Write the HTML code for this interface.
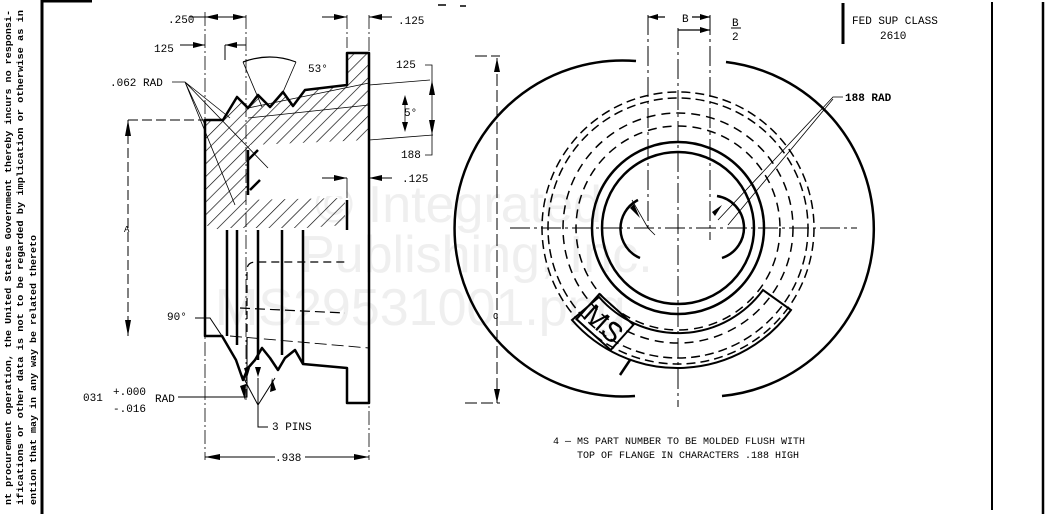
<!DOCTYPE html>
<html><head><meta charset="utf-8"><style>
html,body{margin:0;padding:0;background:#fff;}
svg{display:block;}
text{font-family:"Liberation Mono",monospace;fill:#000;}
</style></head><body>
<svg width="1049" height="514" viewBox="0 0 1049 514" xmlns="http://www.w3.org/2000/svg">
<defs>
<pattern id="h" width="9" height="9" patternUnits="userSpaceOnUse" patternTransform="rotate(45)">
<line x1="0" y1="0" x2="0" y2="9" stroke="#000" stroke-width="1.3"/>
</pattern>
</defs>
<rect width="1049" height="514" fill="#fff"/>
<!-- watermark -->
<g>
<text x="315" y="222" font-size="52" style="font-family:'Liberation Sans',sans-serif;fill:#efefef">© Integrated</text>
<text x="300" y="272" font-size="52" style="font-family:'Liberation Sans',sans-serif;fill:#efefef">Publishing, Inc.</text>
<text x="215" y="325" font-size="52" style="font-family:'Liberation Sans',sans-serif;fill:#efefef">MS29531001.png</text>
</g>
<!-- left margin text -->
<g font-size="9.5" font-weight="bold">
<text transform="translate(11,505) rotate(-90)" textLength="495" lengthAdjust="spacingAndGlyphs">nt procurement operation, the United States Government thereby incurs no responsi-</text>
<text transform="translate(23,505) rotate(-90)" textLength="495" lengthAdjust="spacingAndGlyphs">ifications or other data is not to be regarded by implication or otherwise as in</text>
<text transform="translate(36,505) rotate(-90)" textLength="270" lengthAdjust="spacingAndGlyphs">ention that may in any way be related thereto</text>
</g>
<line x1="42" y1="0" x2="42" y2="514" stroke="#000" stroke-width="3"/>
<line x1="42" y1="1" x2="92" y2="1" stroke="#000" stroke-width="3"/>
<line x1="438" y1="5" x2="446" y2="5" stroke="#000" stroke-width="1.5"/>
<line x1="460" y1="6" x2="466" y2="6" stroke="#000" stroke-width="1.5"/>

<!-- LEFT VIEW -->
<path d="M205,120 L223,120 L237,97 L248,108 L258,95 L270,107 L283,92 L293,106 L305,90 L347,85 L347,53 L369,53 L369,140 L250,145 L248,195 L240,200 L345,198 L345,225 L305,228 L228,228 L220,230 L205,225 Z" fill="url(#h)"/>
<rect x="250" y="146" width="96" height="50" fill="#fff"/>
<g fill="none" stroke="#000" stroke-width="2.5" stroke-linejoin="round">
<path d="M205,120 L223,120 L237,97 L248,108 L258,95 L270,107 L283,92 L293,106 L305,90 L347,85 L347,53 L369,53 L369,403 L347,403 L347,368 L303,364 L295,350 L285,358 L278,370 L270,358 L262,348 L255,360 L248,368 L243,380 L236,360 L222,336 L205,336 Z"/>
<path d="M248,150 L248,195"/>
<path d="M248,160 L258,150"/>
<path d="M250,190 L260,180"/>
<path d="M347,200 L347,230"/>
<path d="M227,230 L227,336 M237,230 L237,345 M258,230 L258,360 M282,230 L282,355 M303,230 L303,364"/>
</g>
<g fill="none" stroke="#000" stroke-width="1.2">
<path d="M247,345 L247,270 Q247,262 256,262 L345,262" stroke-dasharray="8,5"/>
<path d="M240,308 L345,313" stroke-dasharray="10,5"/>
<path d="M230,336 L369,348" stroke-dasharray="12,5" stroke-width="0.9"/>
<path d="M248,108 L369,83 M248,118 L369,105" stroke-width="0.8"/>
<path d="M369,140 L433,135" stroke-width="0.8"/>
<path d="M369,85 L430,80" stroke-width="0.8"/>
<path d="M205,12 L205,460 M246,15 L246,400 M347,15 L347,48 M369,15 L369,460" stroke-dasharray="14,3,2,3" stroke-width="0.8"/>
<path d="M347,178 L347,198" stroke-width="0.8"/>
<path d="M190,17 L205,17 M205,17 L246,17 M322,17 L347,17 M369,17 L392,17" stroke-width="1"/>
<path d="M180,45 L205,45 M225,45 L246,45 M225,45 L225,60" stroke-width="1"/>
<path d="M243,62 Q270,52 296,62" stroke-width="1.2"/>
<path d="M243,62 L262,107 M296,62 L283,92" stroke-width="0.8"/>
<path d="M172,82 L185,82 L205,125 M185,82 L230,118 M185,82 L268,168 M185,82 L235,205" stroke-width="0.8"/>
<path d="M128,120 L205,120 M128,120 L128,336" stroke-dasharray="10,4" stroke-width="1"/>
<path d="M425,65 L432,65 L432,155 L425,155 M405,98 L405,130" stroke-width="0.8"/>
<path d="M369,178 L392,178 M322,178 L347,178" stroke-width="1"/>
<path d="M195,318 L210,318 L222,336" stroke-width="1"/>
<path d="M178,397 L247,397 L247,340" stroke-width="1"/>
<path d="M242,375 L258,405 L275,378 M258,405 L258,427 L268,427 M258,405 L258,378" stroke-width="1"/>
<path d="M205,457 L275,457 M305,457 L369,457" stroke-width="1"/>
<path d="M475,56 L500,56 M497,58 L497,403 M465,403 L500,403" stroke-dasharray="12,4" stroke-width="1"/>
</g>
<g fill="#000">
<polygon points="205,17 218,14 218,20"/><polygon points="246,17 233,14 233,20"/>
<polygon points="347,17 334,14 334,20"/><polygon points="369,17 382,14 382,20"/>
<polygon points="205,45 193,42 193,48"/><polygon points="225,45 237,42 237,48"/>
<polygon points="128,120 125,136 131,136"/><polygon points="128,336 125,320 131,320"/>
<polygon points="497,58 494,72 500,72"/><polygon points="497,403 494,389 500,389"/>
<polygon points="347,178 334,175 334,181"/><polygon points="369,178 382,175 382,181"/>
<polygon points="205,457 220,454 220,460"/><polygon points="369,457 354,454 354,460"/>
<polygon points="432,80 429,95 435,95"/><polygon points="432,135 429,120 435,120"/>
<polygon points="405,95 402,105 408,105"/><polygon points="405,132 402,122 408,122"/>
<polygon points="247,378 244,368 250,368"/><polygon points="258,377 255,367 261,367"/>
<polygon points="245,400 240,386 246,384"/><polygon points="272,378 270,392 276,390"/>
</g>
<g font-size="11">
<text x="168" y="23">.250</text>
<text x="154" y="52">125</text>
<text x="308" y="72">53°</text>
<text x="110" y="86">.062 RAD</text>
<text x="398" y="24">.125</text>
<text x="396" y="68">125</text>
<text x="404" y="116">5°</text>
<text x="401" y="158">188</text>
<text x="402" y="182">.125</text>
<text x="124" y="232" font-size="9">A</text>
<text x="167" y="320">90°</text>
<text x="83" y="401">031</text>
<text x="113" y="395">+.000</text>
<text x="113" y="412">-.016</text>
<text x="155" y="402">RAD</text>
<text x="272" y="430">3 PINS</text>
<text x="275" y="461">.938</text>
<text x="493" y="319" font-size="9">C</text>
</g>

<!-- RIGHT VIEW -->
<g fill="none" stroke="#000">
<path d="M636,61 A168,168 0 1,0 635,396" stroke-width="2.5"/>
<path d="M726,62 A168,168 0 0,1 722,396" stroke-width="2.5"/>
<circle cx="678" cy="228" r="136" stroke-width="1.5" stroke-dasharray="9,5"/>
<circle cx="678" cy="228" r="130" stroke-width="1.5" stroke-dasharray="9,5"/>
<circle cx="678" cy="228" r="115" stroke-width="1.5" stroke-dasharray="9,6"/>
<circle cx="678" cy="228" r="102" stroke-width="1.5" stroke-dasharray="9,6"/>
<circle cx="678" cy="228" r="86" stroke-width="2.5"/>
<circle cx="678" cy="228" r="76" stroke-width="2.5"/>
<path d="M638,200 A32,32 0 0,0 640,258" stroke-width="2.5"/>
<path d="M717,196 A32,32 0 0,1 722,258" stroke-width="2.5"/>
<path d="M572,320 L599,297 A105,105 0 0,0 763,290 L791,310 A140,140 0 0,1 572,320 Z" stroke-width="2"/>
<path d="M510,228 L857,228" stroke-width="1" stroke-dasharray="20,4,3,4"/>
<path d="M648,15 L648,232 M678,28 L678,407 M710,15 L710,240" stroke-width="1" stroke-dasharray="20,4,3,4"/>
<path d="M648,17 L665,17 M692,17 L710,17 M678,30 L710,30" stroke-width="1.2"/>
<path d="M843,97 L833,97 L718,220 M833,99 L728,225" stroke-width="0.8"/>
<path d="M632,200 L648,228 L655,235" stroke-width="0.8"/>
<path d="M620,375 L630,360" stroke-width="2.5"/>
</g>
<rect x="582" y="305" width="46" height="34" fill="none" stroke="#000" stroke-width="2" transform="rotate(42 605 322)"/>
<text x="584" y="334" font-size="28" style="font-family:'Liberation Sans',sans-serif" transform="rotate(42 605 322)">MS</text>
<g fill="#000">
<polygon points="648,17 658,14 658,20"/><polygon points="710,17 700,14 700,20"/>
<polygon points="710,30 700,27 700,33"/>
<polygon points="640,218 630,208 634,204"/><polygon points="722,205 715,216 712,212"/>
</g>
<g font-size="11">
<text x="682" y="22">B</text>
<text x="732" y="26">B</text>
<line x1="731" y1="28" x2="741" y2="28" stroke="#000"/>
<text x="732" y="40">2</text>
<text x="852" y="24">FED SUP CLASS</text>
<text x="880" y="39">2610</text>
<text x="845" y="101" font-weight="bold">188 RAD</text>
<text x="553" y="444" font-size="10">4 — MS PART NUMBER TO BE MOLDED FLUSH WITH</text>
<text x="577" y="458" font-size="10">TOP OF FLANGE IN CHARACTERS .188 HIGH</text>
</g>
<line x1="843" y1="3" x2="843" y2="44" stroke="#000" stroke-width="3"/>
<line x1="992" y1="2" x2="992" y2="510" stroke="#000" stroke-width="2"/>
<line x1="1043" y1="2" x2="1043" y2="514" stroke="#000" stroke-width="2.5"/>
</svg>
</body></html>
